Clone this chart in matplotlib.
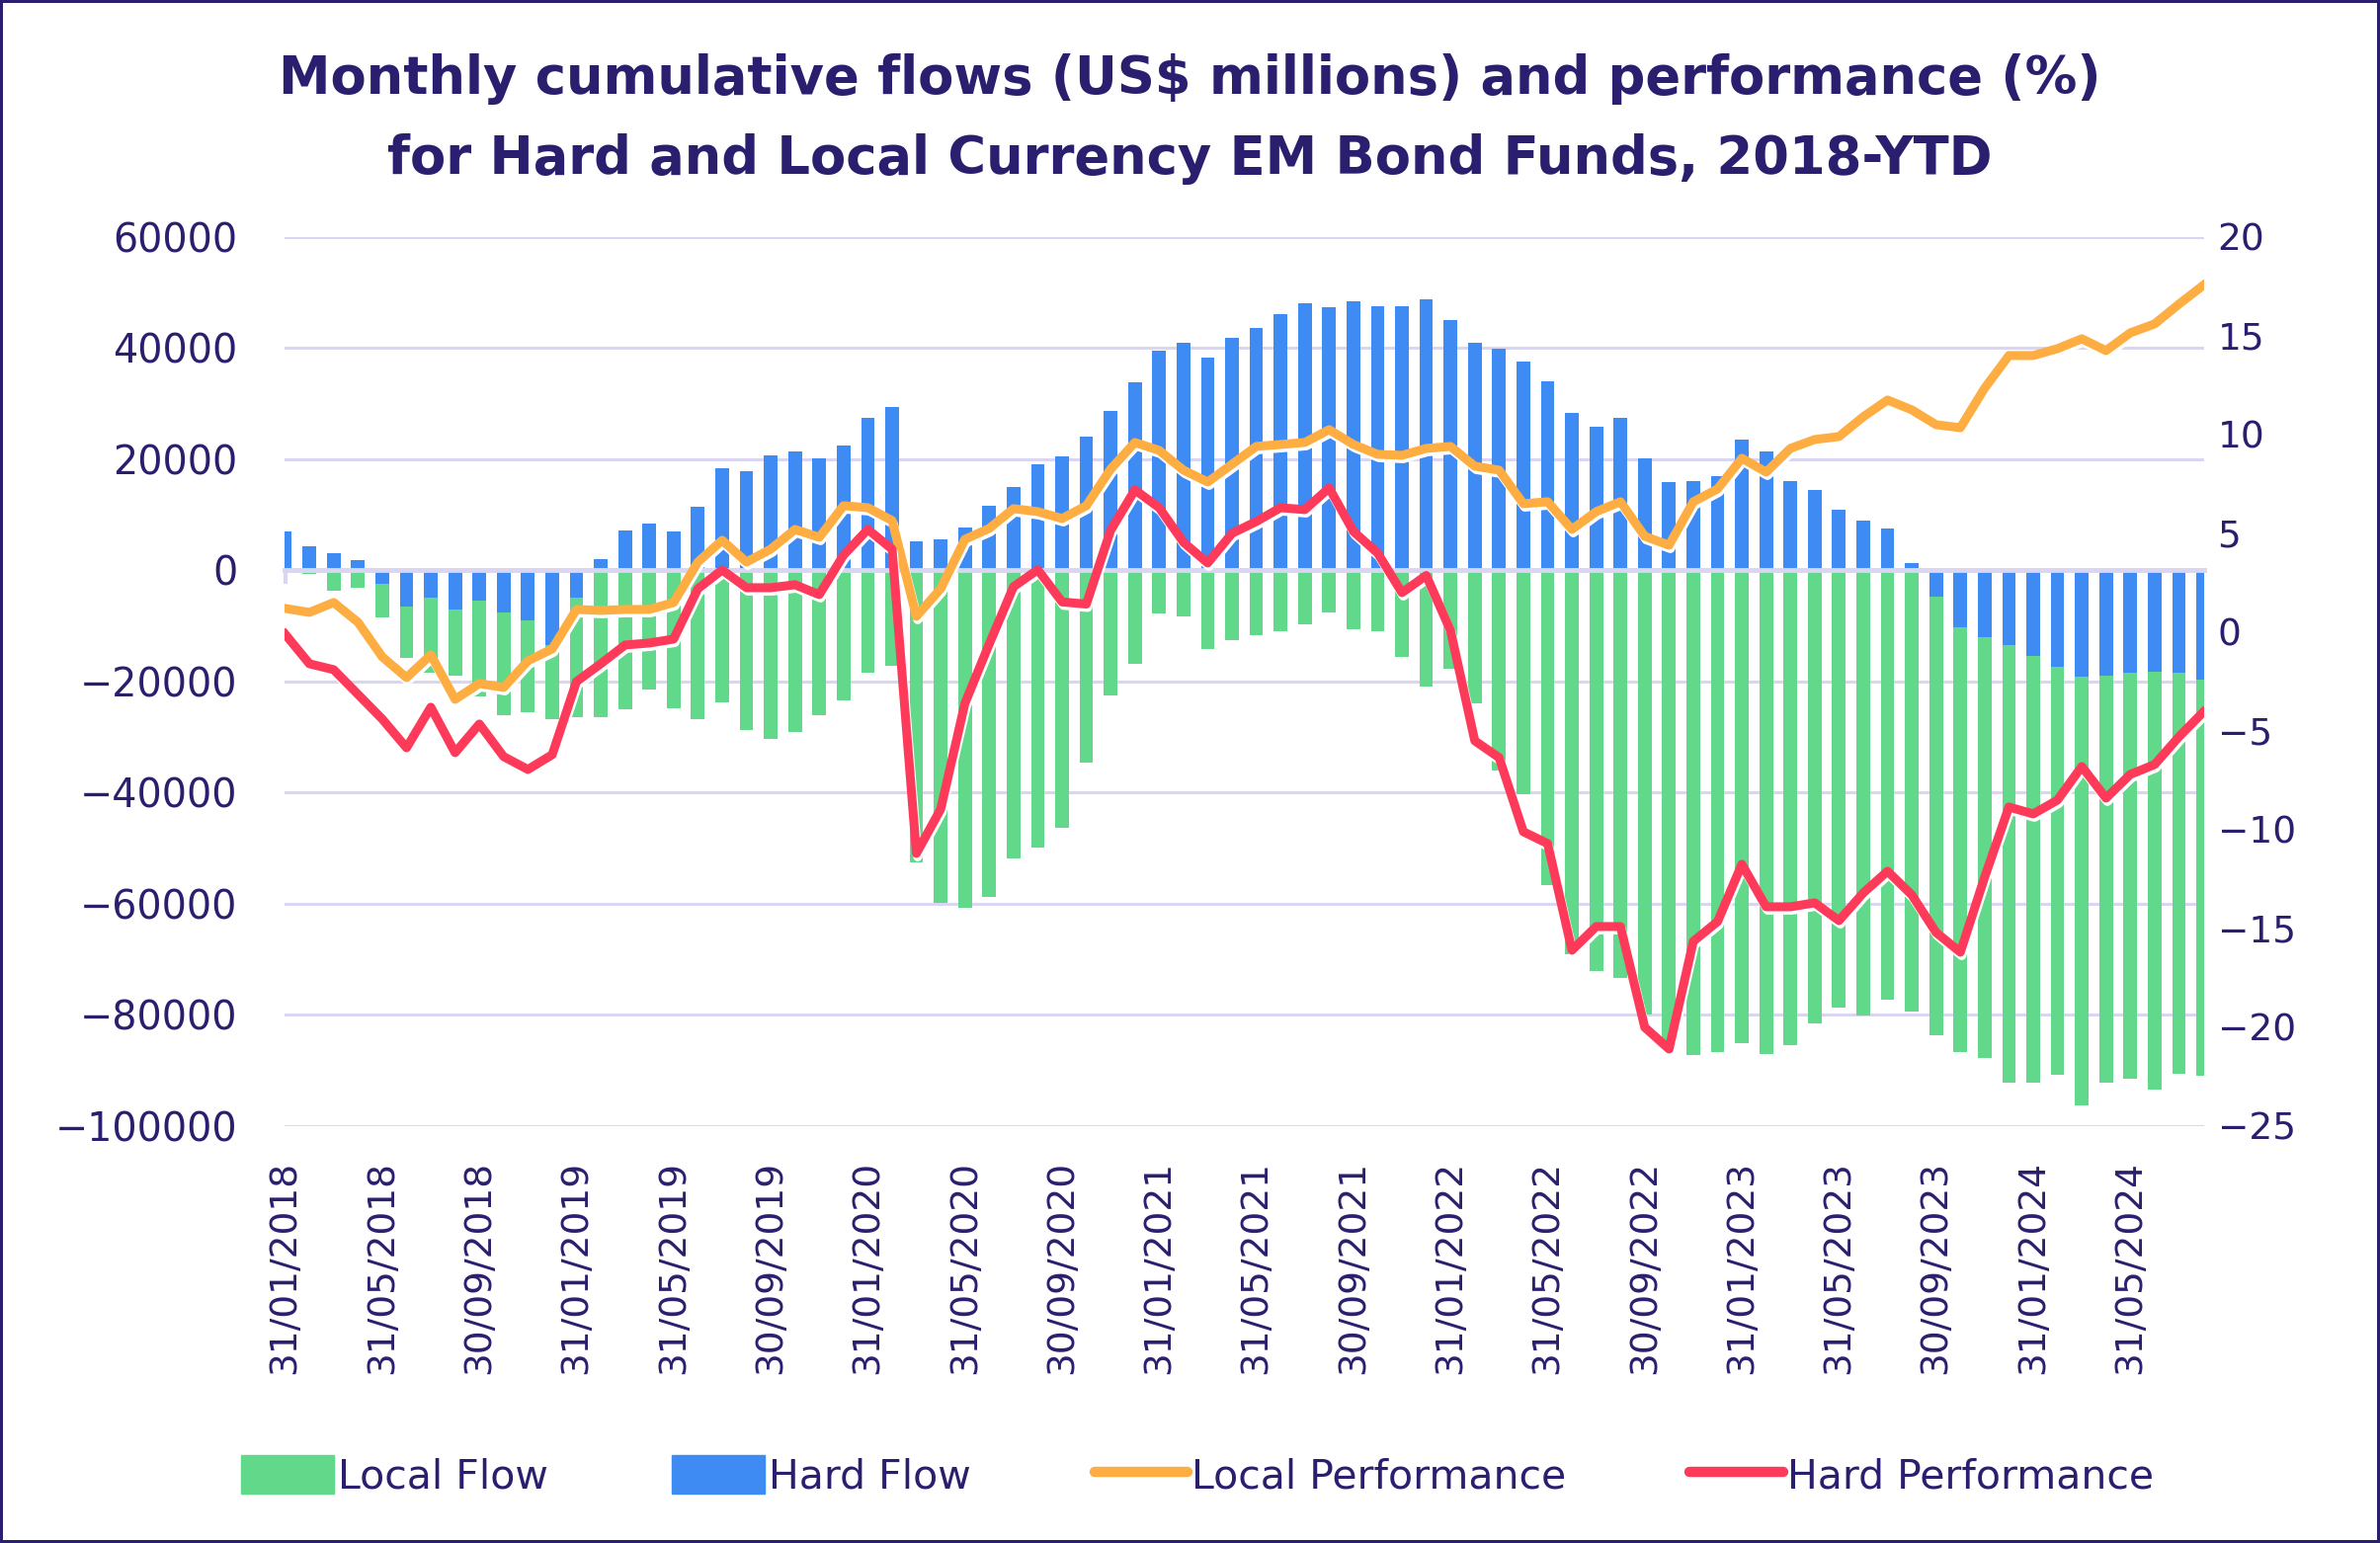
import calendar
import numpy as np
import matplotlib
matplotlib.use("Agg")
import matplotlib.pyplot as plt
import matplotlib.patheffects as pe
from matplotlib.patches import Patch
from matplotlib.lines import Line2D

# month-end dates, Jan 2018 .. Aug 2024
months = []
for year in range(2018, 2025):
    for m in range(1, 13):
        if year == 2024 and m > 8:
            break
        months.append(f"{calendar.monthrange(year, m)[1]:02d}/{m:02d}/{year}")

# cumulative flows, US$ thousands (scaled below)
hard_flow_k = [7.0, 4.3, 3.1, 1.9, -2.5, -6.5, -4.9, -7.0, -5.4, -7.5,
               -9.0, -13.4, -4.9, 2.1, 7.1, 8.4, 7.0, 11.4, 18.3, 17.8,
               20.7, 21.4, 20.1, 22.4, 27.4, 29.4, 5.2, 5.6, 7.7, 11.6,
               15.0, 19.1, 20.5, 24.0, 28.7, 33.8, 39.5, 40.9, 38.3, 41.8,
               43.6, 46.1, 48.0, 47.3, 48.4, 47.5, 47.5, 48.7, 45.0, 40.9,
               39.9, 37.6, 34.0, 28.3, 25.8, 27.4, 20.1, 15.9, 16.0, 17.0,
               23.5, 21.4, 16.0, 14.5, 10.9, 8.9, 7.5, 1.3, -4.7, -10.3,
               -12.0, -13.5, -15.4, -17.3, -19.1, -18.9, -18.4, -18.2, -18.4, -19.6]
local_flow_k = [-0.3, -0.6, -3.7, -3.1, -8.4, -15.7, -18.5, -18.9, -22.7, -26.1,
                -25.6, -26.7, -26.5, -26.4, -25.0, -21.5, -24.8, -26.7, -23.7, -28.7,
                -30.4, -29.1, -26.1, -23.4, -18.4, -17.2, -52.5, -59.8, -60.8, -58.7,
                -51.9, -49.9, -46.4, -34.6, -22.5, -16.8, -7.7, -8.3, -14.2, -12.6,
                -11.6, -10.9, -9.7, -7.5, -10.6, -10.9, -15.6, -20.9, -17.7, -23.9,
                -36.0, -40.2, -56.6, -69.0, -72.1, -73.4, -80.0, -86.0, -87.2, -86.6,
                -85.0, -87.0, -85.4, -81.5, -78.7, -80.1, -77.3, -79.3, -83.6, -86.6,
                -87.8, -92.2, -92.2, -90.7, -96.3, -92.2, -91.5, -93.4, -90.6, -91.0]

# performance, %
local_perf = [1.2, 1.0, 1.5, 0.5, -1.25, -2.3, -1.15, -3.4, -2.6, -2.8,
              -1.45, -0.85, 1.15, 1.1, 1.15, 1.15, 1.5, 3.55, 4.65, 3.55,
              4.2, 5.2, 4.8, 6.4, 6.3, 5.65, 0.8, 2.2, 4.7, 5.25,
              6.25, 6.1, 5.75, 6.4, 8.25, 9.6, 9.2, 8.2, 7.6, 8.5,
              9.4, 9.5, 9.6, 10.25, 9.5, 9.0, 8.95, 9.3, 9.4, 8.4,
              8.2, 6.5, 6.6, 5.2, 6.1, 6.6, 4.85, 4.4, 6.6, 7.25,
              8.8, 8.1, 9.3, 9.75, 9.9, 10.9, 11.75, 11.25, 10.5, 10.35,
              12.35, 14.0, 14.0, 14.35, 14.85, 14.25, 15.15, 15.6, 16.6, 17.55]
hard_perf = [-0.1, -1.6, -1.9, -3.15, -4.4, -5.85, -3.8, -6.1, -4.65, -6.3,
             -6.95, -6.2, -2.5, -1.6, -0.65, -0.55, -0.35, 2.2, 3.15, 2.25,
             2.25, 2.4, 1.9, 3.9, 5.2, 4.2, -11.2, -8.96, -3.6, -0.6,
             2.3, 3.16, 1.53, 1.42, 5.15, 7.2, 6.3, 4.55, 3.5, 5.0,
             5.6, 6.3, 6.2, 7.3, 5.1, 4.0, 2.0, 2.87, 0.08, -5.5,
             -6.35, -10.1, -10.7, -16.1, -14.9, -14.9, -20.0, -21.1, -15.65, -14.65,
             -11.75, -13.9, -13.9, -13.7, -14.6, -13.2, -12.1, -13.3, -15.2, -16.2,
             -12.4, -8.85, -9.2, -8.5, -6.8, -8.4, -7.2, -6.7, -5.3, -4.05]

hard_flow = np.array(hard_flow_k) * 1000
local_flow = np.array(local_flow_k) * 1000

NAVY = "#2a1f6e"
GRID = "#d9d5f3"
GREEN = "#62d88a"
BLUE = "#3d8bf3"
ORANGE = "#fead42"
RED = "#fe3a5a"

x = np.arange(len(months))

fig = plt.figure(figsize=(24.09, 15.62), dpi=100, edgecolor=NAVY, linewidth=3)
ax = fig.add_axes([0.1195, 0.2702, 0.8065, 0.5762])

ax.bar(x, local_flow, width=0.56, color=GREEN, zorder=2)
ax.bar(x, hard_flow, width=0.56, color=BLUE, zorder=2)
ax.set_xlim(-0.03, len(x) - 0.97)
ax.set_ylim(-100000, 60000)
ax.set_yticks(np.arange(-100000, 60001, 20000))
ax.grid(axis="y", color=GRID, lw=2.2)
ax.set_axisbelow(True)
for s in ["top", "left", "right"]:
    ax.spines[s].set_visible(False)
ax.spines["bottom"].set_position(("data", 0))
ax.spines["bottom"].set_color(GRID)
ax.spines["bottom"].set_linewidth(3.5)
ax.set_xticks(x[::4])
ax.set_xticklabels([months[i] for i in x[::4]])
ax.tick_params(axis="x", direction="out", length=10, width=3, color=GRID, labelbottom=False)
ax.tick_params(axis="y", length=0, pad=34, labelsize=28.5, labelcolor=NAVY)

ax2 = ax.twinx()
ax2.set_ylim(-25, 20)
ax2.set_yticks(np.arange(-25, 21, 5))
for s in ax2.spines.values():
    s.set_visible(False)
ax2.tick_params(axis="y", length=0, pad=10, labelsize=27, labelcolor=NAVY)
ax2.xaxis.set_visible(True)
ax2.tick_params(axis="x", length=0, pad=25, labelsize=27, labelcolor=NAVY,
                labelrotation=90, labelbottom=True)

shadow = [pe.SimpleLineShadow(offset=(1, -2.5), shadow_color="white", alpha=1, rho=1), pe.Normal()]
ax2.plot(x, local_perf, color=ORANGE, lw=6.5, solid_joinstyle="round", path_effects=shadow)
ax2.plot(x, hard_perf, color=RED, lw=6.5, solid_joinstyle="round", path_effects=shadow)

fig.text(0.5, 1 - 80 / 1562, "Monthly cumulative flows (US$ millions) and performance (%)",
         ha="center", va="center", fontsize=38, fontweight="heavy", color=NAVY)
fig.text(0.5, 1 - 161 / 1562, "for Hard and Local Currency EM Bond Funds, 2018-YTD",
         ha="center", va="center", fontsize=38, fontweight="heavy", color=NAVY)

handles = [Patch(color=GREEN, label="Local Flow"),
           Patch(color=BLUE, label="Hard Flow"),
           Line2D([], [], color=ORANGE, lw=7.5, solid_capstyle="round", label="Local Performance"),
           Line2D([], [], color=RED, lw=7.5, solid_capstyle="round", label="Hard Performance")]
fig.legend(handles=handles, loc="center", bbox_to_anchor=(0.503, 0.0435), ncol=4,
           frameon=False, fontsize=29.5, handlelength=2.3, handleheight=1.1,
           handletextpad=0.1, columnspacing=3.05, labelcolor=NAVY)

fig.savefig("out.png", dpi=100, edgecolor=fig.get_edgecolor())
